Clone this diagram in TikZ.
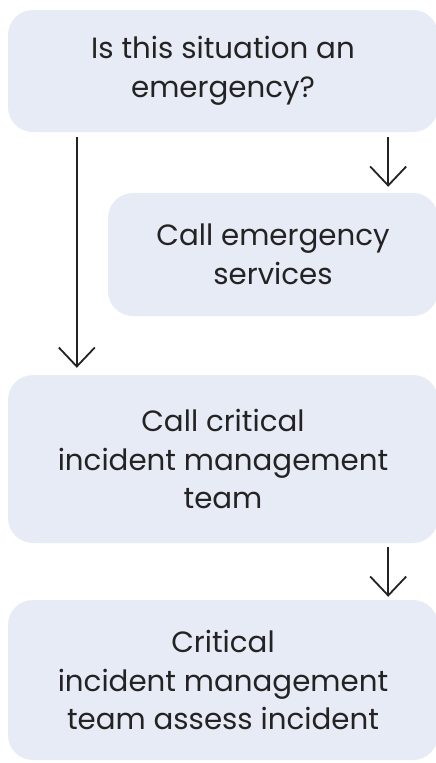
\documentclass[tikz,border=0pt]{standalone}
\usepackage{fontspec}
\setmainfont{Poppins}
\usetikzlibrary{arrows.meta}
\definecolor{boxfill}{HTML}{E7EBF6}
\definecolor{ink}{HTML}{232323}
\tikzset{
  box/.style={rectangle, rounded corners=25pt, fill=boxfill, draw=none, inner sep=0pt,
    align=center, text=ink, font=\fontsize{29.3}{38.5}\selectfont},
  arr/.style={draw=ink, line width=1.8pt, -{Straight Barb[length=19pt, width=36pt, line width=1.8pt]}}
}
\begin{document}
\begin{tikzpicture}[x=1pt, y=1pt]
\useasboundingbox (0,0) rectangle (436,-763);
\node[box, minimum width=430pt, minimum height=122pt] (b1) at (223,-71) {Is this situation an\\emergency?};
\node[box, minimum width=330pt, minimum height=123pt] (b2) at (273,-254.5) {Call emergency\\services};
\node[box, minimum width=430pt, minimum height=168pt] (b3) at (223,-459) {Call critical\\incident management\\team};
\node[box, minimum width=430pt, minimum height=160pt] (b4) at (223,-680) {Critical\\incident management\\team assess incident};
\draw[arr] ([xshift=69pt, yshift=-5pt]b1.south west) -- ([xshift=69pt, yshift=7pt]b3.north west);
\draw[arr] ([xshift=-50pt, yshift=-5pt]b1.south east) -- ([xshift=-50pt, yshift=6pt]b2.north east);
\draw[arr] ([xshift=-50pt, yshift=-4pt]b3.south east) -- ([xshift=-50pt, yshift=3pt]b4.north east);
\end{tikzpicture}
\end{document}
